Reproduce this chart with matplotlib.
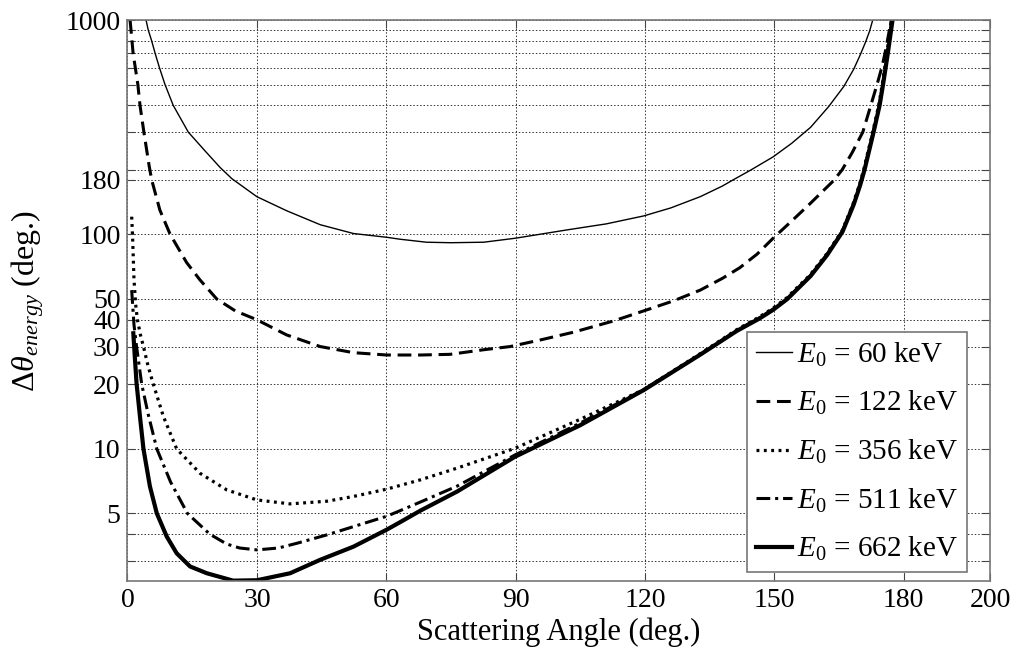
import numpy as np
import matplotlib
matplotlib.use("Agg")
import matplotlib.pyplot as plt
from matplotlib.ticker import FixedLocator, NullFormatter, FixedFormatter

plt.rcParams["font.family"] = ["Liberation Serif", "DejaVu Serif"]
plt.rcParams["mathtext.fontset"] = "custom"
plt.rcParams["mathtext.rm"] = "Liberation Serif"
plt.rcParams["mathtext.it"] = "Liberation Serif:italic"

# curves (angle in deg, delta theta in deg)
ang_60 = [4.3, 4.8, 5.6, 6.4, 7.4, 8.7, 10.6, 14.1, 18, 21.5, 24.2, 30, 36.9, 44.7,
          52.4, 60.1, 63.2, 69.3, 75, 82.6, 89.9, 101.9, 111, 119.7, 126, 132.8, 137.9,
          140.5, 144.4, 149.7, 154, 158.4, 162.6, 166.1, 168.4, 169.8, 171.1, 172.1, 172.8]
val_60 = [1000, 900, 800, 700, 600, 500, 400, 300, 245, 205, 182, 150, 129, 111,
          101, 97, 95, 92, 91.5, 92, 96, 105, 112, 122, 133, 150, 168,
          180, 199, 230, 266, 316, 395, 490, 590, 680, 785, 890, 1000]

ang_122 = [0.6, 1.3, 2.4, 2.9, 3.8, 5.0, 5.6, 7.5, 9.9, 13.7, 16.8, 20.7, 25, 30, 36.9,
           44.7, 52.4, 60.1, 67.9, 74.8, 82.6, 88.7, 96, 103.4, 112.7, 119.7, 126.6,
           132.8, 138, 142, 146, 149.7, 154.5, 158.4, 163.7, 165.7, 168, 170.5, 172.2,
           173.8, 175, 175.8, 177.1]
val_122 = [1000, 700, 500, 400, 300, 210, 180, 130, 100, 74, 61.4, 50, 44, 40, 34,
           30, 28.1, 27.4, 27.4, 27.6, 29, 30, 32.3, 35, 39.5, 44, 49,
           55, 62.5, 70, 81, 96, 118, 140, 178, 200, 240, 300, 390,
           500, 610, 724, 1000]

ang_356 = [0.97, 1.2, 1.5, 1.9, 2.3, 3.0, 3.7, 4.8, 6.0, 8.3, 11.4, 16.8, 23, 30, 37.7,
           46.2, 52.4, 60.1, 67.9, 76.4, 89.9, 105, 119.7, 132.8, 141.3, 146.3, 149.5,
           152.8, 158.2, 162, 165.6, 168.2, 169.7, 170.7, 172.8, 174.2, 175, 175.6,
           176.1, 177.1]
val_356 = [121, 95, 62, 47, 40, 34, 30, 24.2, 20, 14.2, 10, 7.7, 6.44, 5.78, 5.54,
           5.7, 6.0, 6.49, 7.17, 8.13, 10.07, 13.75, 18.9, 27.8, 36, 41, 45,
           50.5, 64.5, 80.5, 103, 138, 170, 200, 300, 400, 500, 600,
           700, 1000]

ang_511 = [0.97, 1.5, 2.1, 3.3, 4.8, 6.8, 10, 13.9, 19.1, 23, 26, 30, 35, 39.3, 46.2,
           52.4, 60.1, 63.2, 67.9, 76.4, 89.9, 105, 119.7, 132.8, 141.3, 146.4, 149.6,
           152.9, 158.3, 162.1, 165.7, 168.3, 169.8, 170.8, 172.9, 174.3, 175.1, 175.7,
           176.2, 177.2]
val_511 = [55, 38, 30, 20, 14.5, 10, 7, 5, 4, 3.6, 3.45, 3.38, 3.45, 3.63, 3.97,
           4.34, 4.85, 5.15, 5.65, 6.7, 9.38, 13.2, 18.9, 27.5, 35.7, 40.7, 44.7,
           50, 64, 80, 103, 138, 170, 200, 300, 400, 500, 600,
           700, 1000]

ang_662 = [1.35, 1.74, 2.1, 2.9, 3.7, 5.2, 6.8, 9.1, 11.4, 14.5, 18.4, 24.5, 30, 37.7,
           44.7, 52.4, 60.1, 63.2, 67.9, 76.4, 89.9, 105, 119.7, 132.8, 141.3, 146.5,
           149.7, 153, 158.4, 162.2, 165.8, 168.4, 169.9, 170.9, 173, 174.4, 175.2,
           175.8, 176.3, 177.4]
val_662 = [34.6, 26, 20.2, 14.1, 10, 6.68, 5.0, 3.9, 3.26, 2.83, 2.63, 2.43, 2.44, 2.63,
           3.04, 3.5, 4.2, 4.55, 5.15, 6.32, 9.2, 12.9, 18.8, 27.5, 35.5, 40.5,
           44.5, 50, 64, 80, 103, 138, 170, 200, 300, 400, 500,
           600, 700, 1000]

labels = [r"$E_{\mathit{0}}$ = 60 keV", r"$E_{\mathit{0}}$ = 122 keV",
          r"$E_{\mathit{0}}$ = 356 keV", r"$E_{\mathit{0}}$ = 511 keV",
          r"$E_{\mathit{0}}$ = 662 keV"]

ytick_major = [5, 10, 20, 30, 40, 50, 100, 180, 1000]
ytick_minor = [3, 4, 200, 300, 400, 500, 600, 700, 800, 900]
xticks = [0, 30, 60, 90, 120, 150, 180, 200]

fig = plt.figure(figsize=(10.2, 6.54), dpi=100)
ax = fig.add_axes([0.125, 0.1116, 0.8456, 0.8578])

ax.plot(ang_60, val_60, color="black", lw=1.0, label=labels[0])
ax.plot(ang_122, val_122, color="black", lw=2.2, dashes=(4.5, 2.2), label=labels[1])
ax.plot(ang_356, val_356, color="black", lw=2.3, dashes=(0.9, 1.4), label=labels[2])
ax.plot(ang_511, val_511, color="black", lw=2.2, dashes=(4.5, 1.6, 1.0, 1.6),
        label=labels[3])
ax.plot(ang_662, val_662, color="black", lw=3.0, label=labels[4])

ax.set_yscale("log")
ax.set_xlim(0, 200)
ax.set_ylim(2.42, 1000)
ax.set_xticks(xticks)
ax.yaxis.set_major_locator(FixedLocator(ytick_major))
ax.yaxis.set_major_formatter(FixedFormatter([str(v) for v in ytick_major]))
ax.yaxis.set_minor_locator(FixedLocator(ytick_minor))
ax.yaxis.set_minor_formatter(NullFormatter())

ax.grid(True, which="both", color="#333333", lw=0.7, linestyle=(0, (1.5, 2.0)))
ax.tick_params(which="both", direction="in", top=True, right=True, length=6,
               width=0.8, labelsize=20, color="#444444", pad=5)
for s in ax.spines.values():
    s.set_color("#777777")
    s.set_linewidth(1.2)

ax.set_xlabel("Scattering Angle (deg.)", fontsize=22, labelpad=3)
ax.set_ylabel(r"$\mathit{\Delta\theta}_{\mathit{energy}}$ (deg.)", fontsize=23, labelpad=14)

leg = ax.legend(loc="lower right", bbox_to_anchor=(0.973, 0.016), fontsize=21,
                fancybox=False, framealpha=1, edgecolor="#777777", handlelength=1.25,
                handletextpad=0.15, labelspacing=0.7, borderpad=0.3, borderaxespad=0)
leg.get_frame().set_linewidth(1.2)

fig.savefig("out.png", dpi=100)
